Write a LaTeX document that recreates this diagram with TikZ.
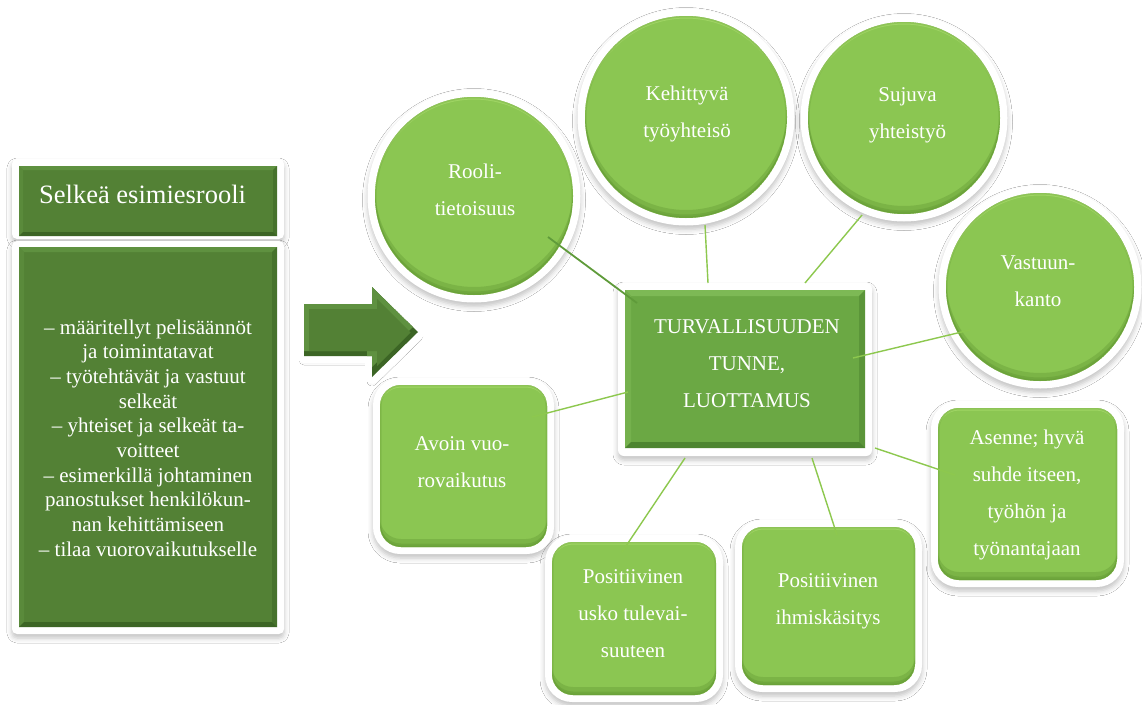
\documentclass[tikz,border=0pt]{standalone}
\usepackage{fontspec}
\setmainfont{Liberation Serif}
\newfontfamily\timesface{Liberation Serif}
\usetikzlibrary{shadows.blur}

\definecolor{deepgreen}{HTML}{538135}
\definecolor{deepgreenlight}{HTML}{5F9140}
\definecolor{deepgreendark}{HTML}{3C6525}
\definecolor{midgreen}{HTML}{6BA844}
\definecolor{midgreenlight}{HTML}{7DB955}
\definecolor{midgreendark}{HTML}{4D8530}
\definecolor{leafgreen}{HTML}{8BC652}
\definecolor{leafgreenlight}{HTML}{A8DC6C}
\definecolor{leafgreendark}{HTML}{5E9430}
\definecolor{linkgreen}{HTML}{8DC84E}
\definecolor{linkdark}{HTML}{5F9B3A}

\tikzset{
  softshadow/.style={blur shadow={shadow xshift=0pt, shadow yshift=-4pt,
      shadow blur radius=5pt, shadow opacity=24}},
  frame/.style={fill=white, softshadow},
  anchorbox/.style={rectangle, inner sep=0pt, outer sep=0pt},
  txt/.style={text=white, align=center, inner sep=0pt,
      font=\timesface\fontsize{21}{37}\selectfont},
  link/.style={draw=linkgreen, line width=1.4pt},
}

% square box with a bevelled rim: node, main, light, dark colour, rim width
\newcommand\bevelrect[5]{%
  \fill[#2] (#1.north west) rectangle (#1.south east);
  \fill[#3] (#1.north west) -- (#1.north east) -- ([shift={(-#5,#5)}]#1.north east)
     -- ([shift={(#5,#5)}]#1.north west) -- cycle;
  \fill[#3!55!#2] (#1.north west) -- ([shift={(#5,#5)}]#1.north west)
     -- ([shift={(#5,-#5)}]#1.south west) -- (#1.south west) -- cycle;
  \fill[#4!55!#2] (#1.north east) -- ([shift={(-#5,#5)}]#1.north east)
     -- ([shift={(-#5,-#5)}]#1.south east) -- (#1.south east) -- cycle;
  \fill[#4] (#1.south west) -- (#1.south east) -- ([shift={(-#5,-#5)}]#1.south east)
     -- ([shift={(#5,-#5)}]#1.south west) -- cycle;
}

% round bubble in a white ring: name, x, y, radius, text, text dx, text dy
\newcommand\bubble[7]{%
  \node[circle, inner sep=0pt, outer sep=0pt, minimum size={2*#4 pt}] (#1) at (#2,#3) {};
  \path[frame] (#1.center) circle[radius={#4 pt+7.5pt}];
  \fill[leafgreen] (#1.center) circle[radius={#4 pt}];
  \begin{scope}
    \clip (#1.center) circle[radius={#4 pt}];
    \fill[leafgreendark, opacity=0.35, even odd rule] (#1.center) circle[radius={#4 pt}]
      ([yshift=8pt]#1.center) circle[radius={#4 pt}];
    \fill[leafgreendark, opacity=0.35, even odd rule] (#1.center) circle[radius={#4 pt}]
      ([yshift=3.5pt]#1.center) circle[radius={#4 pt}];
    \fill[leafgreenlight, opacity=0.7, even odd rule] (#1.center) circle[radius={#4 pt}]
      ([yshift=-2.5pt]#1.center) circle[radius={#4 pt}];
    \draw[leafgreendark, opacity=0.25, line width=3pt] (#1.center) circle[radius={#4 pt}];
  \end{scope}
  \node[txt] at ([shift={(#6,#7)}]#1.center) {#5};
}

% rounded box in a white frame: name, x, y, width, height, text, text dx, text dy
\newcommand\roundbox[8]{%
  \node[anchorbox, minimum width={#4 pt}, minimum height={#5 pt}] (#1) at (#2,#3) {};
  \path[frame, rounded corners=27pt] ([shift={(-7,-7)}]#1.north west)
    rectangle ([shift={(7,7)}]#1.south east);
  \fill[leafgreen, rounded corners=21pt] (#1.north west) rectangle (#1.south east);
  \begin{scope}
    \clip[rounded corners=21pt] (#1.north west) rectangle (#1.south east);
    \fill[leafgreendark, opacity=0.35, even odd rule, rounded corners=21pt]
      (#1.north west) rectangle (#1.south east)
      ([yshift=8pt]#1.north west) rectangle ([yshift=8pt]#1.south east);
    \fill[leafgreendark, opacity=0.35, even odd rule, rounded corners=21pt]
      (#1.north west) rectangle (#1.south east)
      ([yshift=3.5pt]#1.north west) rectangle ([yshift=3.5pt]#1.south east);
    \fill[leafgreenlight, opacity=0.7, even odd rule, rounded corners=21pt]
      (#1.north west) rectangle (#1.south east)
      ([yshift=-2.5pt]#1.north west) rectangle ([yshift=-2.5pt]#1.south east);
    \draw[leafgreendark, opacity=0.25, line width=3pt, rounded corners=21pt]
      (#1.north west) rectangle (#1.south east);
  \end{scope}
  \node[txt] at ([shift={(#7,#8)}]#1.center) {#6};
}

\begin{document}
\begin{tikzpicture}[x=1pt,y=-1pt]
\useasboundingbox (0,0) rectangle (1142,704);
\fill[white] (0,0) rectangle (1142,704);

% ---- left column: heading and list ----
\node[anchorbox, minimum width=258pt, minimum height=70pt] (title) at (148,201) {};
\path[frame, rounded corners=5pt] ([shift={(-7,-7)}]title.north west)
  rectangle ([shift={(7,3)}]title.south east);
\bevelrect{title}{deepgreen}{deepgreenlight}{deepgreendark}{4}
\node[text=white, inner sep=0pt, anchor=base west, font=\timesface\fontsize{26.5}{30}\selectfont]
  at ([shift={(20,2)}]title.west) {Selkeä esimiesrooli};

\node[anchorbox, minimum width=258pt, minimum height=380pt] (body) at (148,437) {};
\path[frame, rounded corners=5pt] ([shift={(-7,-6)}]body.north west)
  rectangle ([shift={(7,7)}]body.south east);
\bevelrect{body}{deepgreen}{deepgreenlight}{deepgreendark}{5}
\node[txt, font=\timesface\fontsize{21}{24.7}\selectfont] at ([shift={(0,1)}]body.center)
  {– määritellyt pelisäännöt\\ja toimintatavat\\– työtehtävät ja vastuut\\selkeät\\
   – yhteiset ja selkeät ta-\\voitteet\\– esimerkillä johtaminen\\
   panostukset henkilökun-\\nan kehittämiseen\\– tilaa vuorovaikutukselle};

% ---- block arrow ----
\path[draw=white, fill=white, line width=14pt, line join=round, softshadow]
  (304,304) -- (372,304) -- (372,287) -- (418,332) -- (372,377) -- (372,356) -- (304,356) -- cycle;
\fill[deepgreendark]
  (304,304) -- (372,304) -- (372,287) -- (418,332) -- (372,377) -- (372,356) -- (304,356) -- cycle;
\begin{scope}
  \clip (304,304) -- (372,304) -- (372,287) -- (418,332) -- (372,377) -- (372,356) -- (304,356) -- cycle;
  \begin{scope}[shift={(-5,-5)}]
    \fill[deepgreenlight]
      (304,304) -- (372,304) -- (372,287) -- (418,332) -- (372,377) -- (372,356) -- (304,356) -- cycle;
  \end{scope}
\end{scope}
\fill[deepgreen]
  (309,309) -- (377,309) -- (377,299) -- (410.5,332.5) -- (377,366) -- (377,351) -- (309,351) -- cycle;

% ---- central box ----
\node[anchorbox, minimum width=240pt, minimum height=158pt] (hub) at (745,369) {};
\path[frame, rounded corners=6pt] ([shift={(-7,-7)}]hub.north west)
  rectangle ([shift={(7,8)}]hub.south east);
\bevelrect{hub}{midgreen}{midgreenlight}{midgreendark}{6}
\node[txt] at ([shift={(2,-5.5)}]hub.center) {TURVALLISUUDEN\\TUNNE,\\LUOTTAMUS};

% ---- surrounding themes ----
\bubble{rooli}{474}{196}{99}{Rooli-\\tietoisuus}{1}{-6}
\bubble{kehitys}{686}{117}{101}{Kehittyvä\\työyhteisö}{1}{-3.3}
\bubble{sujuva}{904}{118}{96}{Sujuva\\yhteistyö}{3.5}{-3}
\bubble{vastuu}{1040}{287}{94}{Vastuun-\\kanto}{-2}{-5.8}

\roundbox{avoin}{463.5}{466}{167}{162}{Avoin vuo-\\rovaikutus}{-1.5}{-4.3}
\roundbox{usko}{634}{618.5}{164}{153}{Positiivinen\\usko tulevai-\\suuteen}{-1}{-5.2}
\roundbox{ihmis}{828.5}{606}{173}{158}{Positiivinen\\ihmiskäsitys}{-0.5}{-4.2}
\roundbox{asenne}{1027.5}{494}{179}{172}{Asenne; hyvä\\suhde itseen,\\työhön ja\\työnantajaan}{-0.5}{1.2}

% ---- connectors ----
\draw[link, draw=linkdark, line width=1.8pt] ([shift={(74,41)}]rooli.center) -- ([shift={(-108,-66)}]hub.center);
\draw[link] ([shift={(19,108)}]kehitys.center) -- ([shift={(-37,-86)}]hub.center);
\draw[link] ([shift={(-42,97)}]sujuva.center) -- ([shift={(60,-86)}]hub.center);
\draw[link] ([shift={(-70,43)}]vastuu.center) -- ([shift={(108,-11)}]hub.center);
\draw[link] ([shift={(-72.5,-19)}]asenne.center) -- ([shift={(130,79)}]hub.center);
\draw[link] ([shift={(68.5,-49)}]avoin.center) -- ([shift={(-117,23)}]hub.center);
\draw[link] ([shift={(-12,-66.5)}]usko.center) -- ([shift={(-60,89)}]hub.center);
\draw[link] ([shift={(8.5,-71)}]ihmis.center) -- ([shift={(67,89)}]hub.center);
\end{tikzpicture}
\end{document}
